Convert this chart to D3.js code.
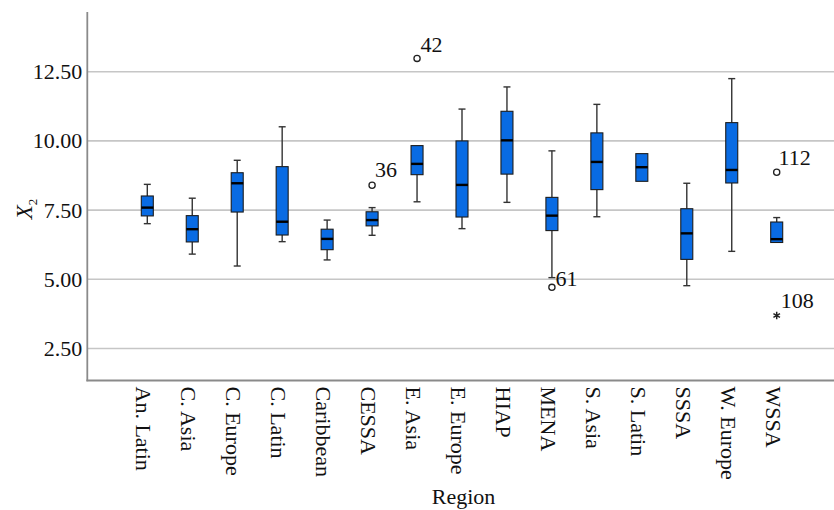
<!DOCTYPE html>
<html>
<head>
<meta charset="utf-8">
<script src="https://cdn.jsdelivr.net/npm/d3@7"></script>
<style>
  html, body { margin: 0; padding: 0; background: #fff; }
  svg { display: block; }
  text { font-family: "Liberation Serif", "Times New Roman", serif; fill: #111; }
</style>
</head>
<body>
<svg id="chart" width="834" height="510"></svg>
<script>
// Box-plot summaries of X2 by region
const regions = ["An. Latin", "C. Asia", "C. Europe", "C. Latin", "Caribbean", "CESSA", "E. Asia",
  "E. Europe", "HIAP", "MENA", "S. Asia", "S. Latin", "SSSA", "W. Europe", "WSSA"];
const whiskerLow  = [7.01, 5.91, 5.48, 6.36, 5.70, 6.59, 7.80, 6.83, 7.78, 5.06, 7.26, 8.54, 4.77, 6.01, 6.33];
const quartile1   = [7.29, 6.35, 7.43, 6.60, 6.07, 6.93, 8.78, 7.25, 8.80, 6.76, 8.24, 8.54, 5.72, 8.48, 6.33];
const medians     = [7.59, 6.81, 8.47, 7.08, 6.46, 7.14, 9.17, 8.41, 10.02, 7.30, 9.24, 9.05, 6.66, 8.95, 6.45];
const quartile3   = [8.01, 7.30, 8.85, 9.07, 6.81, 7.44, 9.83, 10.00, 11.07, 7.96, 10.29, 9.54, 7.55, 10.66, 7.07];
const whiskerHigh = [8.43, 7.93, 9.30, 10.51, 7.14, 7.59, 9.83, 11.15, 11.95, 9.64, 11.32, 9.54, 8.47, 12.25, 7.23];

// Outlying cases (circle = outlier, star = extreme), labelled by case number
const outlierRegion = ["CESSA", "E. Asia", "MENA", "WSSA", "WSSA"];
const outlierValue  = [8.40, 12.98, 4.71, 8.87, 3.69];
const outlierCase   = ["36", "42", "61", "112", "108"];
const outlierKind   = ["circle", "circle", "circle", "circle", "star"];

const yTicks = [2.5, 5.0, 7.5, 10.0, 12.5];

const svg = d3.select("#chart");
const plotLeft = 87.3, plotRight = 834, plotTop = 12, plotBottom = 380.5;

const y = d3.scaleLinear().domain([1.344, 14.657]).range([plotBottom, plotTop]);
const x = d3.scalePoint().domain(regions).range([147.3, 776.7]);

const boxW = 12, capW = 7;

// gridlines
svg.append("g").selectAll("line").data(yTicks).join("line")
  .attr("x1", plotLeft).attr("x2", plotRight)
  .attr("y1", d => y(d)).attr("y2", d => y(d))
  .attr("stroke", "#c6c6c6").attr("stroke-width", 1.6);

// y axis
const yAxis = svg.append("g")
  .attr("transform", `translate(${plotLeft},0)`)
  .call(d3.axisLeft(y).tickValues(yTicks).tickFormat(d3.format(".2f")).tickSize(0).tickPadding(5));
yAxis.select(".domain").remove();
yAxis.selectAll("text").style("font-size", "22px").attr("fill", "#111")
  .style("font-family", "'Liberation Serif', serif");

// x axis labels (rotated)
const xAxis = svg.append("g")
  .attr("transform", `translate(0,${plotBottom})`)
  .call(d3.axisBottom(x).tickSize(0).tickPadding(0));
xAxis.select(".domain").remove();
xAxis.selectAll(".tick text")
  .style("font-size", "22px").attr("fill", "#111")
  .style("font-family", "'Liberation Serif', serif")
  .attr("text-anchor", "start")
  .attr("dy", null)
  .attr("y", null)
  .attr("transform", "translate(-11.5,6) rotate(90)");

// axis frame
svg.append("line").attr("x1", plotLeft).attr("x2", plotLeft).attr("y1", plotTop).attr("y2", plotBottom + 0.8)
  .attr("stroke", "#8a8a8a").attr("stroke-width", 1.8);
svg.append("line").attr("x1", plotLeft - 0.9).attr("x2", plotRight).attr("y1", plotBottom).attr("y2", plotBottom)
  .attr("stroke", "#8a8a8a").attr("stroke-width", 1.8);

// boxes
const boxes = svg.append("g").selectAll("g").data(regions).join("g")
  .attr("transform", d => `translate(${x(d)},0)`);

const whiskerColor = "#333";
boxes.each(function(d, i) {
  const g = d3.select(this);
  const segs = [];
  if (whiskerHigh[i] > quartile3[i]) segs.push([quartile3[i], whiskerHigh[i]]);
  if (whiskerLow[i] < quartile1[i]) segs.push([whiskerLow[i], quartile1[i]]);
  segs.forEach(([a, b]) => {
    g.append("line").attr("x1", 0).attr("x2", 0).attr("y1", y(a)).attr("y2", y(b))
      .attr("stroke", whiskerColor).attr("stroke-width", 1.4);
  });
  if (whiskerHigh[i] > quartile3[i])
    g.append("line").attr("x1", -capW / 2).attr("x2", capW / 2)
      .attr("y1", y(whiskerHigh[i])).attr("y2", y(whiskerHigh[i]))
      .attr("stroke", whiskerColor).attr("stroke-width", 1.4);
  if (whiskerLow[i] < quartile1[i])
    g.append("line").attr("x1", -capW / 2).attr("x2", capW / 2)
      .attr("y1", y(whiskerLow[i])).attr("y2", y(whiskerLow[i]))
      .attr("stroke", whiskerColor).attr("stroke-width", 1.4);

  g.append("rect")
    .attr("x", -boxW / 2).attr("width", boxW)
    .attr("y", y(quartile3[i])).attr("height", y(quartile1[i]) - y(quartile3[i]))
    .attr("fill", "#096be3").attr("stroke", "#1c1c1c").attr("stroke-width", 1.1);

  g.append("line").attr("x1", -boxW / 2).attr("x2", boxW / 2)
    .attr("y1", y(medians[i])).attr("y2", y(medians[i]))
    .attr("stroke", "#000").attr("stroke-width", 2.4);
});

// outliers and extremes
const labelOffset = { "36": [3, -8.5], "42": [3.5, -6.7], "61": [3.5, -1], "112": [1.8, -7.3], "108": [4, -7.4] };
const outG = svg.append("g");
outlierValue.forEach((v, i) => {
  const cx = x(outlierRegion[i]), cy = y(v);
  if (outlierKind[i] === "circle") {
    outG.append("circle").attr("cx", cx).attr("cy", cy).attr("r", 3.1)
      .attr("fill", "#fff").attr("stroke", "#222").attr("stroke-width", 1.3);
  } else {
    outG.append("path").attr("d", d3.symbol(d3.symbolAsterisk, 40)())
      .attr("transform", `translate(${cx},${cy})`)
      .attr("fill", "none").attr("stroke", "#222").attr("stroke-width", 1.5);
  }
  const off = labelOffset[outlierCase[i]];
  outG.append("text").attr("x", cx + off[0]).attr("y", cy + off[1])
    .style("font-size", "22px").text(outlierCase[i]);
});

// axis titles
svg.append("text").attr("x", 463.5).attr("y", 504).attr("text-anchor", "middle")
  .style("font-size", "22px").text("Region");

const yt = svg.append("text").attr("transform", "translate(32,209) rotate(-90)")
  .attr("text-anchor", "middle").style("font-size", "23px");
yt.append("tspan").style("font-style", "italic").text("X");
yt.append("tspan").attr("dy", 5).style("font-size", "13px").text("2");
</script>
</body>
</html>
